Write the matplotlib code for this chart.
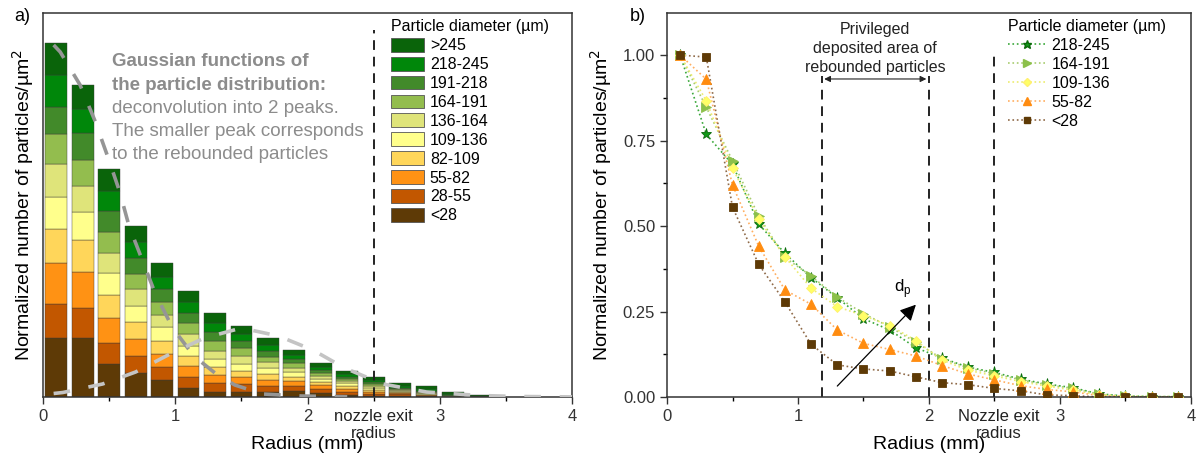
import numpy as np
import matplotlib
matplotlib.use("Agg")
import matplotlib.pyplot as plt
from matplotlib.patches import Patch
from matplotlib.lines import Line2D

plt.rcParams['font.family'] = ['Liberation Sans', 'DejaVu Sans']

# ---- panel a) stacked histogram (arbitrary units read from picture) ----
radius_bins = [0.1, 0.3, 0.5, 0.7, 0.9, 1.1, 1.3, 1.5, 1.7, 1.9, 2.1, 2.3, 2.5, 2.7, 2.9, 3.1, 3.3]
size_classes = ['<28', '28-55', '55-82', '82-109', '109-136', '136-164',
                '164-191', '191-218', '218-245', '>245']
lt28 = [59, 59, 33, 24, 17, 9, 5, 5, 5, 6, 4, 2, 1, 1, 0.5, 0.05, 0.02]
d28_55 = [34, 30, 21, 17, 13, 11, 9, 8, 6, 5, 4, 3, 2, 2, 0.5, 0.05, 0.03]
d55_82 = [41, 36, 25, 17, 13, 11, 8, 7, 6, 5, 4, 3, 2, 1, 0.5, 0.1, 0.05]
d82_109 = [34, 32, 23, 17, 13, 10, 8, 6, 6, 4, 3, 3, 2, 1, 0.5, 0.1, 0.05]
d109_136 = [32, 28, 22, 16, 14, 10, 8, 7, 6, 5, 3, 3, 2, 1, 0.5, 0.2, 0.05]
d136_164 = [33, 26, 20, 17, 12, 12, 8, 8, 6, 4, 3, 2, 2, 1, 1, 0.2, 0.1]
d164_191 = [30, 26, 21, 15, 13, 11, 10, 8, 5, 5, 3, 2, 2, 1, 1, 0.3, 0.1]
d191_218 = [27, 27, 21, 16, 13, 10, 9, 7, 6, 4, 3, 2, 2, 1, 1, 0.5, 0.2]
d218_245 = [32, 24, 20, 16, 12, 11, 9, 7, 6, 4, 3, 3, 2, 2, 2, 1.5, 0.3]
gt245 = [32, 24, 22, 16, 14, 11, 10, 8, 7, 5, 4, 3, 3, 3, 3, 2, 0.6]
stack = [lt28, d28_55, d55_82, d82_109, d109_136, d136_164, d164_191, d191_218, d218_245, gt245]
bar_colors = ['#5e3a06', '#c25700', '#ff9214', '#ffd65a', '#ffff8c', '#dfe47a',
              '#93bd4e', '#428a2a', '#00870a', '#0a640a']

# gaussian deconvolution curves
g1_x = [0.08, 0.13, 0.28, 0.39, 0.49, 0.58, 0.65, 0.75, 0.85, 0.98, 1.14, 1.3, 1.45, 1.66, 1.95, 2.3]
g1_y = [352, 345, 312, 277, 240, 205, 171, 137, 103, 69, 41, 24, 12, 3, 1, 0.2]
g2_x = [0.08, 0.15, 0.45, 0.7, 0.96, 1.22, 1.5, 1.78, 2.04, 2.28, 2.57, 2.9, 3.3, 3.6, 4.0]
g2_y = [3.5, 4.5, 13, 25, 43, 59, 69, 61, 47, 29, 13, 5, 1.5, 0.5, 0.1]

note_bold = ['Gaussian functions of', 'the particle distribution:']
note_plain = ['deconvolution into 2 peaks.', 'The smaller peak corresponds',
              'to the rebounded particles']

# ---- panel b) normalized number vs radius ----
radius_pts = [0.1, 0.3, 0.5, 0.7, 0.9, 1.1, 1.3, 1.5, 1.7, 1.9,
              2.1, 2.3, 2.5, 2.7, 2.9, 3.1, 3.3, 3.5, 3.7, 3.9]
n_218_245 = [1.00, 0.768, 0.680, 0.506, 0.420, 0.349, 0.290, 0.229, 0.196, 0.144,
             0.114, 0.087, 0.072, 0.052, 0.038, 0.027, 0.009, 0.003, 0.001, 0.001]
n_164_191 = [1.00, 0.847, 0.691, 0.529, 0.408, 0.354, 0.292, 0.244, 0.205, 0.160,
             0.112, 0.085, 0.068, 0.050, 0.036, 0.025, 0.008, 0.002, 0.001, 0.001]
n_109_136 = [1.00, 0.866, 0.669, 0.520, 0.410, 0.318, 0.264, 0.238, 0.209, 0.165,
             0.108, 0.078, 0.062, 0.045, 0.032, 0.020, 0.006, 0.002, 0.001, 0.001]
n_55_82 = [1.00, 0.929, 0.620, 0.441, 0.313, 0.271, 0.196, 0.157, 0.139, 0.120,
           0.092, 0.067, 0.050, 0.033, 0.022, 0.015, 0.004, 0.001, 0.0, 0.0]
n_lt28 = [1.00, 0.994, 0.555, 0.388, 0.278, 0.154, 0.094, 0.082, 0.076, 0.059,
          0.042, 0.036, 0.025, 0.018, 0.006, 0.004, 0.0, 0.0, 0.0, 0.0]

fig = plt.figure(figsize=(11.96, 4.62), dpi=100)
axa = fig.add_axes([0.036, 0.1407, 0.4423, 0.8312])
axb = fig.add_axes([0.5577, 0.1407, 0.4381, 0.8312])

# ---------------- panel a ----------------
bottom = np.zeros(len(radius_bins))
for vals, col in zip(stack, bar_colors):
    axa.bar(radius_bins, vals, width=0.165, bottom=bottom, color=col,
            edgecolor='#3a3a3a', linewidth=0.3)
    bottom += np.array(vals)

axa.plot(g1_x, g1_y, color='#959595', lw=2.6, dashes=(4.6, 5.2), zorder=5)
axa.plot(g2_x, g2_y, color='#c4c4c4', lw=2.6, dashes=(4.6, 5.2), zorder=5)

axa.plot([2.5, 2.5], [0, 367], color='#222222', lw=1.4, dashes=(5, 3.5))
axa.text(2.5, -12, 'nozzle exit\nradius', ha='center', va='top', fontsize=12,
         linespacing=1.15, color='#222222')

# five-line note, each line placed on its own baseline
line_y = [335, 311, 288, 265, 242]
for i, txt in enumerate(note_bold + note_plain):
    axa.text(0.52, line_y[i], txt, fontsize=13.5, color='#8c8c8c', va='center',
             fontweight='bold' if i < len(note_bold) else 'normal')

axa.set_xlim(0, 4)
axa.set_ylim(0, 384)
axa.set_yticks([])
axa.set_xticks([0, 1, 2, 3, 4])
axa.set_xticks(np.arange(0, 4.01, 0.5), minor=True)
axa.tick_params(axis='x', direction='out', length=5, width=1, labelsize=12, colors='#333333')
axa.tick_params(axis='x', which='minor', direction='out', length=3, width=1)
axa.set_xlabel('Radius (mm)', fontsize=14, labelpad=9)
axa.set_ylabel('Normalized number of particles/µm$^2$', fontsize=14, labelpad=5)

handles_a = [Patch(facecolor=c, edgecolor='#555555', linewidth=0.6, label=l)
             for c, l in zip(bar_colors[::-1], size_classes[::-1])]
leg_a = axa.legend(handles=handles_a, title='Particle diameter (µm)', loc='upper left',
                   bbox_to_anchor=(0.645, 1.0), frameon=False, fontsize=11.5,
                   title_fontsize=11.5, handlelength=2.1, handleheight=0.95,
                   labelspacing=0.22, handletextpad=0.35, borderaxespad=0.2, borderpad=0.2)
leg_a._legend_box.align = 'left'

# ---------------- panel b ----------------
series = [
    (n_218_245, '218-245', '*', '#109a18', '#0a6a0a', '#3aa83a', 8),
    (n_164_191, '164-191', '>', '#8cc04a', '#8cc04a', '#a8cc70', 6.5),
    (n_109_136, '109-136', 'D', '#ffff66', '#fff070', '#ecec70', 5),
    (n_55_82, '55-82', '^', '#ff8c10', '#ff8c10', '#ffae60', 6.5),
    (n_lt28, '<28', 's', '#5e3a06', '#5e3a06', '#8f6a48', 5.5),
]
handles_b = []
for vals, lab, mk, fc, ec, lc, ms in series:
    axb.plot(radius_pts, vals, ls=':', color=lc, lw=1.2, zorder=2)
    axb.plot(radius_pts, vals, ls='none', marker=mk, ms=ms, mfc=fc, mec=ec,
             mew=0.6, zorder=3)
    handles_b.append(Line2D([], [], ls=':', color=lc, lw=1.2, marker=mk, ms=ms * 0.8,
                            mfc=fc, mec=ec, label=lab))

for xv, ytop in [(1.18, 0.94), (2.0, 0.94), (2.5, 1.015)]:
    axb.plot([xv, xv], [0, ytop], color='#222222', lw=1.4, dashes=(5, 3.5), zorder=1)

axb.annotate('', xy=(1.2, 0.93), xytext=(1.98, 0.93),
             arrowprops=dict(arrowstyle='<|-|>', color='#222222', lw=0.8,
                             mutation_scale=9, shrinkA=0, shrinkB=0))
axb.text(1.59, 1.097, 'Privileged\ndeposited area of\nrebounded particles', ha='center',
         va='top', fontsize=11.5, linespacing=1.32, color='#222222')

axb.annotate('', xy=(1.9, 0.27), xytext=(1.3, 0.032),
             arrowprops=dict(arrowstyle='-|>', color='black', lw=0.9,
                             mutation_scale=24, shrinkA=0, shrinkB=0))
axb.text(1.8, 0.285, 'd$_\\mathregular{p}$', ha='center', va='bottom', fontsize=12)

axb.text(2.53, -0.035, 'Nozzle exit\nradius', ha='center', va='top', fontsize=12,
         linespacing=1.15, color='#222222')

axb.set_xlim(0, 4)
axb.set_ylim(0, 1.123)
axb.set_xticks([0, 1, 2, 3, 4])
axb.set_xticks(np.arange(0, 4.01, 0.5), minor=True)
axb.set_yticks([0, 0.25, 0.5, 0.75, 1.0])
axb.set_yticks(np.arange(0, 1.01, 0.125), minor=True)
axb.set_yticklabels(['0.00', '0.25', '0.50', '0.75', '1.00'])
axb.tick_params(direction='out', length=5, width=1, labelsize=12, colors='#333333')
axb.tick_params(which='minor', direction='out', length=3, width=1)
axb.set_xlabel('Radius (mm)', fontsize=14, labelpad=9)
axb.set_ylabel('Normalized number of particles/µm$^2$', fontsize=14, labelpad=6)

leg_b = axb.legend(handles=handles_b, title='Particle diameter (µm)', loc='upper left',
                   bbox_to_anchor=(0.638, 1.0), frameon=False, fontsize=11.5,
                   title_fontsize=11.5, handlelength=2.4, handleheight=0.95,
                   labelspacing=0.22, handletextpad=0.35, borderaxespad=0.2, borderpad=0.2)
leg_b._legend_box.align = 'left'

for ax in (axa, axb):
    for sp in ax.spines.values():
        sp.set_color('#333333')
        sp.set_linewidth(1.1)

fig.text(0.012, 0.965, 'a)', fontsize=13, va='center')
fig.text(0.527, 0.965, 'b)', fontsize=13, va='center')

fig.savefig('out.png', dpi=100)
